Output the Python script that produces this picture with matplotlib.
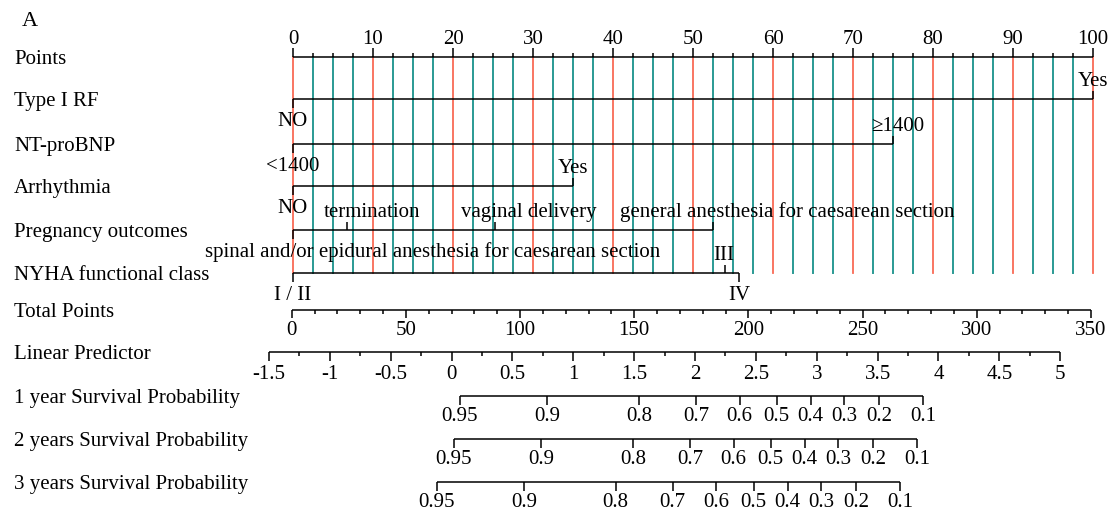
import numpy as np
import matplotlib
matplotlib.use("Agg")
import matplotlib.pyplot as plt

plt.rcParams["font.family"] = ["Liberation Serif", "DejaVu Serif"]

# ---- data ----
points_ticks = list(range(0, 101, 10))

type1_levels = ["NO", "Yes"]
type1_points = [0, 100]
ntprobnp_levels = ["<1400", "\u22651400"]
ntprobnp_points = [0, 75]
arrhythmia_levels = ["NO", "Yes"]
arrhythmia_points = [0, 35]
pregnancy_levels = ["spinal and/or epidural anesthesia for caesarean section",
                    "termination", "vaginal delivery",
                    "general anesthesia for caesarean section"]
pregnancy_points = [0, 6.7, 25.25, 52.5]
nyha_levels = ["I / II", "III", "IV"]
nyha_points = [0, 54, 55.7]

total_ticks = list(range(0, 351, 50))
lp_ticks = [-1.5, -1, -0.5, 0, 0.5, 1, 1.5, 2, 2.5, 3, 3.5, 4, 4.5, 5]
surv_ticks = [0.95, 0.9, 0.8, 0.7, 0.6, 0.5, 0.4, 0.3, 0.2, 0.1]
surv_names = ["1 year Survival Probability", "2 years Survival Probability",
              "3 years Survival Probability"]
baseline_surv = [0.9532, 0.9509, 0.9437]   # survival at linear predictor 0

total_at_lp0 = 70.0        # total points where linear predictor = 0
total_per_lp = 53.3        # total points per unit of linear predictor

# ---- layout ----
W, H = 1110, 511
X0, PX_PER_PT = 293, 8.0           # pixel of 0 points, pixels per point
TOTAL_X0, TOTAL_X350 = -0.16, 99.75  # total-points axis ends, in point units
GRID_TOP, GRID_BOTTOM = 57, 273
TEAL, RED = "#2a9a94", "#f96a55"
FS = 15
ABOVE, BELOW = -13, 27             # baseline offsets of tick labels


def px2pt(px):
    return (px - X0) / PX_PER_PT


def total2pt(tp):
    return TOTAL_X0 + (TOTAL_X350 - TOTAL_X0) * np.asarray(tp, float) / 350.0


def lp2pt(lp):
    return total2pt(total_at_lp0 + total_per_lp * np.asarray(lp, float))


def surv2pt(s, s0):
    lp = np.log(-np.log(np.asarray(s, float))) - np.log(-np.log(s0))
    return lp2pt(lp)


fig = plt.figure(figsize=(W / 100, H / 100), dpi=100)
ax = fig.add_axes([0, 0, 1, 1])
ax.set_xlim(px2pt(0), px2pt(W))
ax.set_ylim(H, 0)
ax.axis("off")

LW = 1.1


def hline(x1, x2, y):
    ax.plot([x1, x2], [y, y], color="black", lw=LW, zorder=3,
            solid_capstyle="butt")


def tick(x, y, length):
    ax.plot([x, x], [y, y + length], color="black", lw=LW, zorder=3,
            solid_capstyle="butt")


def label(x, y, s, ha="center"):
    ax.text(x, y, s, ha=ha, va="baseline", fontsize=FS, zorder=4)


# panel letter and row names
ax.text(px2pt(22), 26, "A", fontsize=FS + 1, va="baseline")
rows = {"Points": 57, "Type I RF": 99, "NT-proBNP": 144, "Arrhythmia": 186,
        "Pregnancy outcomes": 230, "NYHA functional class": 273,
        "Total Points": 310, "Linear Predictor": 352}
for name, y in zip(surv_names, [396, 439, 482]):
    rows[name] = y
for name, y in rows.items():
    label(px2pt(14), y + 7, name, ha="left")

# grid lines behind the predictor rows
for p in np.arange(0, 100.01, 2.5):
    red = abs(p % 10) < 1e-9
    ax.plot([p, p], [GRID_TOP, GRID_BOTTOM], color=RED if red else TEAL,
            lw=1.3 if red else 1.4, zorder=1)

# Points axis
y = rows["Points"]
hline(0, 100, y)
for p in np.arange(0, 100.01, 2.5):
    major = abs(p % 10) < 1e-9
    tick(p, y, -9 if major else -4)
for p in points_ticks:
    label(p, y + ABOVE, str(p))

# categorical predictors
cat_rows = [
    ("Type I RF", type1_levels, type1_points, ["below", "above"], [0, 0]),
    ("NT-proBNP", ntprobnp_levels, ntprobnp_points, ["below", "above"], [0, 0.6]),
    ("Arrhythmia", arrhythmia_levels, arrhythmia_points, ["below", "above"], [0, 0]),
    ("Pregnancy outcomes", pregnancy_levels, pregnancy_points,
     ["below", "above", "above", "above"], [17.4, 3.2, 4.2, 9.3]),
    ("NYHA functional class", nyha_levels, nyha_points,
     ["below", "above", "below"], [0, -0.2, 0.1]),
]
for name, levels, pts, sides, shifts in cat_rows:
    y = rows[name]
    hline(0, max(pts), y)
    for lev, p, side, sh in zip(levels, pts, sides, shifts):
        if side == "above":
            tick(p, y, -8)
            label(p + sh, y + ABOVE, lev)
        else:
            tick(p, y, 9)
            label(p + sh, y + BELOW, lev)

# Total points axis
y = rows["Total Points"]
hline(total2pt(0), total2pt(350), y)
for t in range(0, 351, 10):
    tick(total2pt(t), y, 8 if t % 50 == 0 else 4)
for t in total_ticks:
    label(total2pt(t), y + 25, str(t))

# Linear predictor axis
y = rows["Linear Predictor"]
hline(lp2pt(lp_ticks[0]), lp2pt(lp_ticks[-1]), y)
for v in np.arange(lp_ticks[0], lp_ticks[-1] + 0.01, 0.25):
    tick(lp2pt(v), y, 9 if abs(v * 2 - round(v * 2)) < 1e-9 else 4)
for v in lp_ticks:
    label(lp2pt(v), y + 27, "%g" % v)

# survival probability axes
for name, s0 in zip(surv_names, baseline_surv):
    y = rows[name]
    xs = surv2pt(surv_ticks, s0)
    hline(xs[0], xs[-1], y)
    for x, s in zip(xs, surv_ticks):
        tick(x, y, 9)
        label(x, y + 25, "%g" % s)

fig.savefig("out.png", dpi=100)
